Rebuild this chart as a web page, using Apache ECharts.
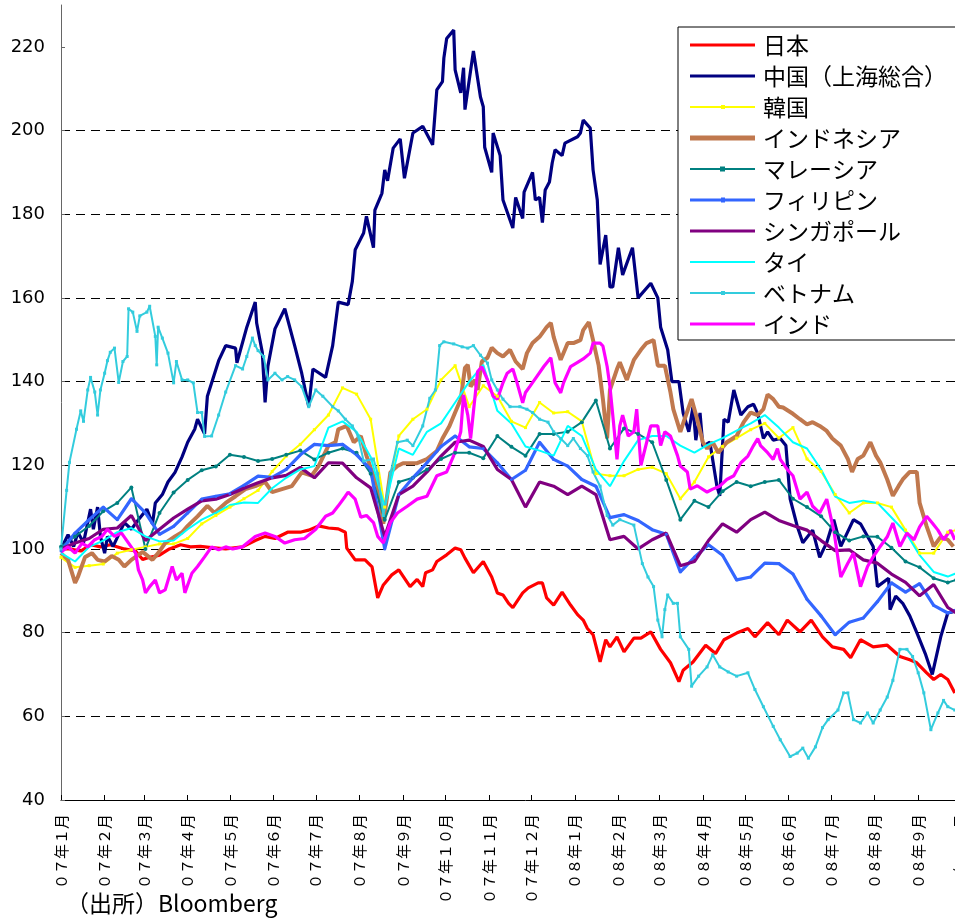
<!DOCTYPE html>
<html>
<head>
<meta charset="utf-8">
<script src="https://cdn.jsdelivr.net/npm/echarts@6/dist/echarts.min.js"></script>
<style>
html,body{margin:0;padding:0;background:#fff;overflow:hidden;width:955px;height:923px;}
#chart{width:1000px;height:923px;}
</style>
</head>
<body>
<div id="chart"></div>
<script>
// x: days since 2007-01-01 (shared grid for several series)
const days = [0,10,20,30,40,50,60,70,80,90,100,110,120,130,140,150,160,170,180,190,200,210,220,230,240,250,260,270,280,290,300,310,320,330,340,350,360,370,380,390,400,410,420,430,440,450,460,470,480,490,500,510,520,530,540,550,560,570,580,590,600,610,620,630,636];

const monthDays = [0,31,59,90,120,151,181,212,243,273,304,334,365,396,425,456,486,517,547,578,609,639];
const monthLabels = ['０７年１月','０７年２月','０７年３月','０７年４月','０７年５月','０７年６月','０７年７月','０７年８月','０７年９月','０７年１０月','０７年１１月','０７年１２月','０８年１月','０８年２月','０８年３月','０８年４月','０８年５月','０８年６月','０８年７月','０８年８月','０８年９月','０８年１０月'];

const yTicks = [40,60,80,100,120,140,160,180,200,220];

// Japan (own day points)
const japanDays = [0,6,14,21,28,35,45,53,58,63,70,77,85,92,99,107,117,129,138,145,152,161,170,176,183,190,197,202,203,209,216,221,225,229,235,240,248,253,257,259,264,267,274,280,284,287,293,300,306,310,314,318,321,328,332,339,342,345,350,356,362,367,371,374,378,383,387,390,395,400,407,412,419,426,433,439,442,449,458,465,471,480,488,493,502,510,516,525,533,541,548,556,561,568,577,587,596,603,608,615,620,625,630,635];
const japan = [100,100,99.5,101,100.5,101,100,99.5,97.5,98,98.5,100,101,100.5,100.6,100.3,100,100.5,102,103,102.5,104,104,104.5,105.5,105,104.8,104,100.2,97.4,97.4,95.7,88.3,91.4,93.8,95,91,92.7,91,94.3,95,97,98.6,100.2,99.8,97.8,94.3,97,93.3,89.5,89,87,86,89.5,90.7,91.9,91.9,88.3,86.6,89.7,86.6,84.3,83,81,79.5,73,78.3,76.6,79,75.4,78.7,78.7,80.2,76,72.8,68.3,71,73,77,75,78.3,79.9,81,79,82.4,79.5,83,80.2,83,79,76.6,76,74,78.3,76.6,77,74.3,73.5,72.8,70.4,68.8,70,68.8,65.6];

// China (own day points)
const chinaDays = [0,5,9,12,16,21,23,26,28,31,33,37,45,50,55,61,65,67,72,76,81,86,90,95,97,102,104,112,117,124,125,132,138,139,143,145,147,152,159,166,171,176,179,188,193,197,204,207,209,215,217,222,223,228,230,232,236,241,244,250,257,264,267,271,272,274,279,280,284,286,287,293,298,300,301,306,307,312,314,321,323,328,329,335,337,340,342,344,347,349,351,356,358,367,369,371,376,378,381,383,387,390,392,396,399,406,410,419,424,426,431,434,439,442,446,449,451,454,456,461,466,468,471,474,478,483,488,492,495,499,502,506,511,515,518,523,527,534,539,544,549,554,563,568,577,580,588,589,593,598,603,608,614,619,625,630,634];
const china = [100,103.4,100.6,104,101.5,109.5,104.7,110,103,99,103,100.6,106.3,104.7,107,109.5,106,111,113,116,118.3,122,125.5,128.6,131,127.5,136.5,145,148.6,148,144.5,153,159,154,147,135,143.7,152.6,157.4,148.6,142,134,143,141,148.6,159,158.4,164,171.5,175.5,179.5,172,181,185,190.6,188,195.8,198,188.6,199.4,201,196.6,209.7,211.7,217.3,222,224,214.5,209,215,205,219,208,205.7,196,190,199.4,194,183.4,176.7,184,179,185.3,190,183.4,184,178,185.8,187.7,192.3,195.4,194,197,198.5,199.4,202.5,200.6,190.6,183.4,168,175,162.6,162.6,172,165.5,172,160,163.5,160,153,147.6,140,140,132.5,128,134,126,132.5,124.5,125.5,115,112.7,131,130.3,138,132,134,134.6,132.4,126.4,128,126,126.4,124.7,112,105.5,101.5,104.5,98,101.5,107,100.6,107,106,100.6,91,93,85.5,88.7,87,84,80,75,70,79,84.7,85];

const korea = [98,95.6,96,96.4,99,99.8,100.5,101.2,101.2,102.5,106,108,110,112,114,118.5,122.2,125,128.5,132,138.5,137,131,110,127,131,133.4,140.4,143.8,134,139,136.5,130.5,129,135,132.5,132.8,130.5,118,117.5,117.5,119,119.5,118,112,116,122,124.5,126.5,128.5,130,126.5,129,121.5,118.5,113,108.6,111,111,110,104.5,99,99,104,104.5];

// Indonesia (own day points)
const indonesiaDays = [0,5,10,12,17,22,26,31,36,41,45,50,58,65,69,74,81,86,90,97,104,109,117,124,131,138,145,150,157,164,171,178,183,190,195,197,203,208,213,217,222,225,229,234,239,243,253,260,267,271,276,280,284,287,289,291,294,296,299,303,306,310,314,319,323,328,331,335,340,345,348,350,355,360,364,369,371,375,378,382,385,388,390,395,397,402,407,412,416,421,424,429,433,435,440,443,448,452,456,459,463,467,473,480,485,490,495,499,502,506,510,513,520,525,530,534,539,544,548,554,559,562,566,570,575,579,582,587,591,595,598,603,608,610,615,620,625,630,634];
const indonesia = [99,97.4,91.9,93.3,98,99,97.4,97,98.3,97.4,95.8,97.4,99.3,97.4,99,101.4,103,104,105.5,107.8,110.3,108.6,111,112.6,114.3,115,116,113.6,114.3,115,118.3,117.5,119.8,124.7,125.5,128.6,129.4,125.5,127,122.3,117.5,115,106,118.3,119.8,120.5,120.5,121.5,123.4,126.4,129.4,132.6,135.8,143.3,144,138.8,140.4,138,144.8,145.7,148.1,146.8,146,147.6,144.8,143,146.8,149.2,150.7,153,154,150.7,145.2,149.2,149.2,149.9,152.3,154.2,149.9,143.8,135.8,126.4,138,143,144.6,140.4,145.2,147.6,149.2,149.9,143.8,143.8,137.4,133.4,128,131,135.8,131,125.5,124,125.5,123,125.5,127,130.3,132.6,132,133.4,136.9,135.8,134,133.8,132.3,131,129.8,130.3,129.4,128.2,126.4,124.7,121.5,118.4,121.5,122.3,125.5,122.3,120.7,116.6,112.7,115,116.6,118.4,118.4,111,105.4,100.6,102.9,102.2,100.6];

const malaysia = [100.5,103,105.5,109,111,114.7,100,108.6,113.5,116.5,118.8,119.7,122.5,122,121,121.5,122.5,123.5,121.4,123,124,123,118,107,116,117,119,121.5,123,123,121.7,127,124.4,122.3,127.5,127.5,128,130.3,135.5,124,128.8,127.5,125.5,116.5,107,111.5,110,113.8,116,115,116,116.5,112,110,107.8,104,102,103,102.9,100.3,97,95.6,93,92,92.6];
const philippines = [99.5,103.8,107,110,107,112,108.6,103.5,105.4,108.6,111.9,112.6,113.2,115.2,117.4,117.1,119,122.5,125,124.7,125,122.5,119,100,113,117,120.6,124.5,127,124.4,124,120.6,116.6,118.8,125.5,121.4,119.8,116.6,115,107.5,108.2,106.8,104.6,103.5,94.5,98,101,98.5,92.6,93.3,96.6,96.5,94,88,84,79.5,82.5,83.5,87.4,91.9,89.7,91.7,86.5,84.7,85.4];
const singapore = [100,101.4,102.5,104.7,105,108,102,104.7,107.4,109.5,111.5,111.9,113,114.5,115.8,117,117.6,119.5,117,120.6,120.5,117,114.6,103,113,115,118.4,122.2,125.5,126,124.5,119,116.6,110,116,115,113,115,113,102.2,103,100,102.2,103.8,96,97,102,106,104,107,108.8,106.8,105.6,104.5,102,99.6,99.8,97.4,96.6,94,92,88.8,91.5,86,84.7];
const thailand = [99,97,100.5,102,104,105,103,101.8,102,104.7,107,108.6,110.5,111.1,111,114.5,117,119,119.8,129,130.5,128,122,110,124,122.5,128,130,135,140,144,133,130,124.5,123.5,122.3,129.4,127,119,115,121,126,127,127,124.7,123,125,126.5,128.3,130,132,129,125.5,124,119,112.5,111,111.5,111,107.5,104,98.5,94.5,93.4,94.2];

// Vietnam (own day points)
const vietnamDays = [0,4,6,11,14,16,19,21,24,26,28,31,33,35,38,41,44,47,48,51,54,56,61,63,67,68,69,72,76,80,82,86,90,94,97,100,102,107,112,117,124,129,132,136,138,140,144,147,152,157,161,166,171,176,181,186,193,197,202,207,211,215,222,225,229,234,239,246,250,257,262,266,269,272,279,285,289,293,298,303,306,310,314,319,326,331,335,340,346,350,355,360,364,369,374,378,383,388,392,397,407,413,417,421,424,427,429,431,435,438,440,446,448,453,459,463,468,474,480,488,493,499,506,511,518,523,527,531,536,541,545,552,556,559,563,568,573,577,582,587,591,596,601,605,609,613,618,623,627,630,635];
const vietnam = [100,114,120.7,128.6,133,130.5,138,141,137.5,132,138,142,145,147,148,139.8,144.8,146,157.4,156.6,152,155.7,156.6,158,150.8,144,153,150.4,146.8,139.7,144.8,140.4,140.4,139.7,132.6,132.6,126.9,127,132,137.5,143.8,143,146,150.4,148.6,147.4,146,140.4,142,140.4,141.2,140.4,138.8,134,138,136.5,134,133,131,129.4,127,121,121.5,118,108,118,125.5,126,124.7,129.4,136,138,148.6,149.5,149,148.3,148,148.6,146.3,144.4,140.4,138,135.8,134,134,133.4,132.6,131,130.3,128,126.4,124.7,126.4,124,122.3,118.4,115,108,105.7,107,105.7,96.5,93.3,91,83,79,85.5,89,87,87,79,76,67.2,69.6,71.8,74.7,71.8,70.6,69.6,70.4,66.4,62.3,57.6,54.4,50.4,51.2,52.4,50,52.7,57.3,59.2,61.5,65.6,65.6,59.2,58.4,60.8,58.4,61.5,64.6,68.6,76,76,74.3,70.4,65.6,56.8,60.8,63.8,62.3,61.5];

// India (own day points)
const indiaDays = [0,5,10,15,19,24,29,33,38,43,48,53,55,58,60,63,67,70,74,79,82,86,88,93,97,102,107,112,117,122,129,138,145,152,159,166,173,181,188,193,197,202,204,209,213,217,222,225,229,234,239,246,253,260,267,274,279,284,286,289,291,296,299,303,307,310,314,317,321,324,328,330,333,338,343,348,351,355,357,362,367,371,376,378,383,385,388,390,392,395,397,399,403,407,409,412,419,424,426,429,433,438,440,445,447,452,459,463,468,473,478,483,488,492,495,497,502,506,509,511,516,520,525,530,534,539,544,549,554,559,563,568,573,577,582,587,591,596,601,606,610,615,619,623,627,632,635];
const india = [99.3,100.5,99,101.4,100.5,102.2,103,104.7,103,103.8,101.4,99,95,92.6,89.5,91,92.6,89.5,90.2,95.8,92.6,94.2,89.5,94.2,95.8,98.1,100.5,99.8,100.5,100,100.5,103,103.8,103,101.4,102.2,102.5,104.7,107.8,108.6,110.3,112.6,113.6,111.9,107.6,108,106.3,103,101.4,106.3,108.6,110.2,111.9,112.6,117.5,118.4,122.3,128,136.8,132,126.4,142.4,143.5,140.4,136.5,135.8,139.7,142,143,139.7,134.9,137.4,138.8,141.2,143.6,145.7,139.7,137.3,139.7,143.6,144.6,145.4,146.8,149.2,149.2,148.5,143.6,138.8,132,121.4,129.4,132,127,128,133.4,120,129.4,129.4,124.7,128,127,122.3,119.8,118.4,114.3,115.1,113.6,114.3,115,116.6,117.5,120.6,122.2,124.7,126.4,124.7,123,121.4,124,121.4,119,117.5,111.9,113.6,110.2,108.6,111.9,104.5,93.3,96.6,99,91,95.8,98.1,100.6,102.9,106.2,100.6,103.8,102.2,105.3,107.8,106.2,104.5,102.2,104.5,102.2];

const seriesDefs = [
  {name:'日本', x:japanDays, data:japan, color:'#FF0000', width:3.2, symbol:'none', icon:'path://M0,0H65V3H0Z'},
  {name:'中国（上海総合）', x:chinaDays, data:china, color:'#000080', width:3.2, symbol:'none', icon:'path://M0,0H65V3H0Z'},
  {name:'韓国', x:days, data:korea, color:'#FFFF00', width:2, symbol:'rect', size:3, icon:'path://M0,2H65V4H0Z M31,1H35V5H31Z'},
  {name:'インドネシア', x:indonesiaDays, data:indonesia, color:'#C0784E', width:4, symbol:'none', icon:'path://M0,0H65V5H0Z'},
  {name:'マレーシア', x:days, data:malaysia, color:'#008080', width:2, symbol:'circle', size:4, icon:'path://M0,2H65V4H0Z M30,0.5H35V5.5H30Z'},
  {name:'フィリピン', x:days, data:philippines, color:'#3366FF', width:3.2, symbol:'circle', size:3, icon:'path://M0,1.5H65V4.5H0Z M31,0.5H35V5.5H31Z'},
  {name:'シンガポール', x:days, data:singapore, color:'#800080', width:3.2, symbol:'none', icon:'path://M0,0H65V3H0Z'},
  {name:'タイ', x:days, data:thailand, color:'#00FFFF', width:2, symbol:'none', icon:'path://M0,0H65V2H0Z'},
  {name:'ベトナム', x:vietnamDays, data:vietnam, color:'#33CCDD', width:2, symbol:'rect', size:3, icon:'path://M0,2H65V4H0Z M31,1H35V5H31Z'},
  {name:'インド', x:indiaDays, data:india, color:'#FF00FF', width:3.2, symbol:'none', icon:'path://M0,0H65V3H0Z'}
];

const chart = echarts.init(document.getElementById('chart'), null, {renderer:'canvas'});
const series = seriesDefs.map(s => ({
  name: s.name,
  type: 'line',
  data: s.x.map((d, i) => [d, s.data[i]]),
  symbol: s.symbol,
  symbolSize: s.size || 0,
  showSymbol: s.symbol !== 'none',
  lineStyle: {color: s.color, width: s.width},
  itemStyle: {color: s.color},
  animation: false,
  silent: true
}));

chart.setOption({
  backgroundColor: '#fff',
  animation: false,
  grid: {left: 61, right: 10, top: 5, bottom: 123},
  xAxis: {
    type: 'value', min: 0, max: 660,
    axisLine: {show: true, onZero: false, lineStyle: {color: '#000', width: 1}},
    axisTick: {show: true, inside: true, length: 5, customValues: monthDays, lineStyle: {color: '#000'}},
    axisLabel: {
      customValues: monthDays, rotate: 90, margin: 14,
      formatter: v => monthLabels[monthDays.indexOf(v)],
      fontSize: 15, fontFamily: '"Noto Sans CJK JP"', color: '#000'
    },
    splitLine: {show: false}
  },
  yAxis: {
    type: 'value', min: 40, max: 230, interval: 20,
    axisLine: {show: true, lineStyle: {color: '#666', width: 1}},
    axisTick: {show: true, inside: true, length: 4, customValues: yTicks, lineStyle: {color: '#666'}},
    axisLabel: {showMaxLabel: false, margin: 16, fontSize: 18, fontFamily: '"DejaVu Sans"', color: '#000'},
    splitLine: {show: true, showMinLine: false, showMaxLine: false, lineStyle: {color: '#000', width: 1, type: [9, 6]}}
  },
  legend: {
    orient: 'vertical', left: 678, top: 27,
    backgroundColor: '#fff', borderColor: '#000', borderWidth: 1,
    padding: [6, 12, 4, 12],
    itemWidth: 65, itemHeight: 6, itemGap: 7,
    symbolKeepAspect: true,
    itemStyle: {borderWidth: 0},
    textStyle: {fontSize: 23, lineHeight: 24, fontFamily: '"Noto Sans CJK JP"', color: '#000', padding: [0, 0, 0, 3]},
    data: seriesDefs.map(s => ({name: s.name, icon: s.icon}))
  },
  graphic: [{
    type: 'text', left: 66, top: 892,
    style: {text: '（出所）Bloomberg', fontSize: 23, fontFamily: '"Noto Sans CJK JP"', fill: '#000'}
  }],
  series: series
});
</script>
</body>
</html>
